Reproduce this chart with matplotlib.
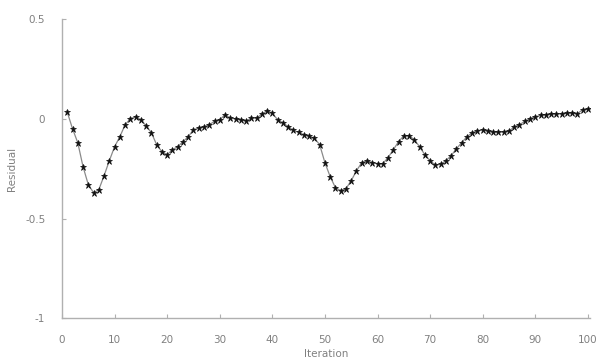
import matplotlib
matplotlib.use("Agg")
import matplotlib.pyplot as plt

# Series: one value per step, steps 1..100
steps = list(range(1, 101))
values = [
    0.033, -0.05, -0.12, -0.24, -0.33, -0.37, -0.355, -0.285, -0.21, -0.14,
    -0.09, -0.03, 0.0, 0.01, -0.005, -0.035, -0.07, -0.13, -0.165, -0.18,
    -0.155, -0.14, -0.115, -0.09, -0.055, -0.047, -0.04, -0.03, -0.013, -0.005,
    0.02, 0.003, 0.0, -0.005, -0.01, 0.002, 0.003, 0.023, 0.04, 0.028,
    -0.005, -0.02, -0.04, -0.058, -0.068, -0.08, -0.088, -0.097, -0.13, -0.22,
    -0.29, -0.345, -0.36, -0.35, -0.31, -0.26, -0.22, -0.21, -0.22, -0.225,
    -0.225, -0.195, -0.155, -0.115, -0.085, -0.085, -0.105, -0.14, -0.18, -0.21,
    -0.232, -0.228, -0.21, -0.185, -0.15, -0.12, -0.09, -0.07, -0.06, -0.055,
    -0.063, -0.068, -0.068, -0.067, -0.063, -0.04, -0.03, -0.013, 0.0, 0.01,
    0.017, 0.02, 0.025, 0.023, 0.025, 0.028, 0.028, 0.025, 0.045, 0.048,
]

x_ticks = [0, 10, 20, 30, 40, 50, 60, 70, 80, 90, 100]
y_ticks = [0.5, 0, -0.5, -1]
y_tick_labels = ["0.5", "0", "-0.5", "-1"]

x_label = "Iteration"
y_label = "Residual"

fig = plt.figure(figsize=(6.02, 3.63), dpi=100)
ax = fig.add_axes([0.103, 0.1226, 0.877, 0.8254])

ax.plot(steps, values, color="#8a8a8a", linewidth=0.9,
        marker="*", markersize=5, markerfacecolor="#111111",
        markeredgecolor="#111111", markeredgewidth=0.5)

ax.set_xlim(0, 100.4)
ax.set_ylim(-1, 0.5)
ax.set_xticks(x_ticks)
ax.set_xticklabels([str(t) for t in x_ticks])
ax.set_yticks(y_ticks)
ax.set_yticklabels(y_tick_labels)

for side in ("top", "right"):
    ax.spines[side].set_visible(False)
for side in ("left", "bottom"):
    ax.spines[side].set_color("#b0b0b0")
    ax.spines[side].set_linewidth(1.0)

ax.tick_params(axis="both", direction="in", length=3, width=0.8,
               color="#b0b0b0", labelcolor="#808080", labelsize=7.5)
ax.tick_params(axis="x", pad=12)
ax.tick_params(axis="y", pad=12)

ax.set_xlabel(x_label, fontsize=7.5, color="#808080", labelpad=3)
ax.set_ylabel(y_label, fontsize=7.5, color="#808080", labelpad=6)

fig.savefig("out.png", dpi=100, facecolor="white")
